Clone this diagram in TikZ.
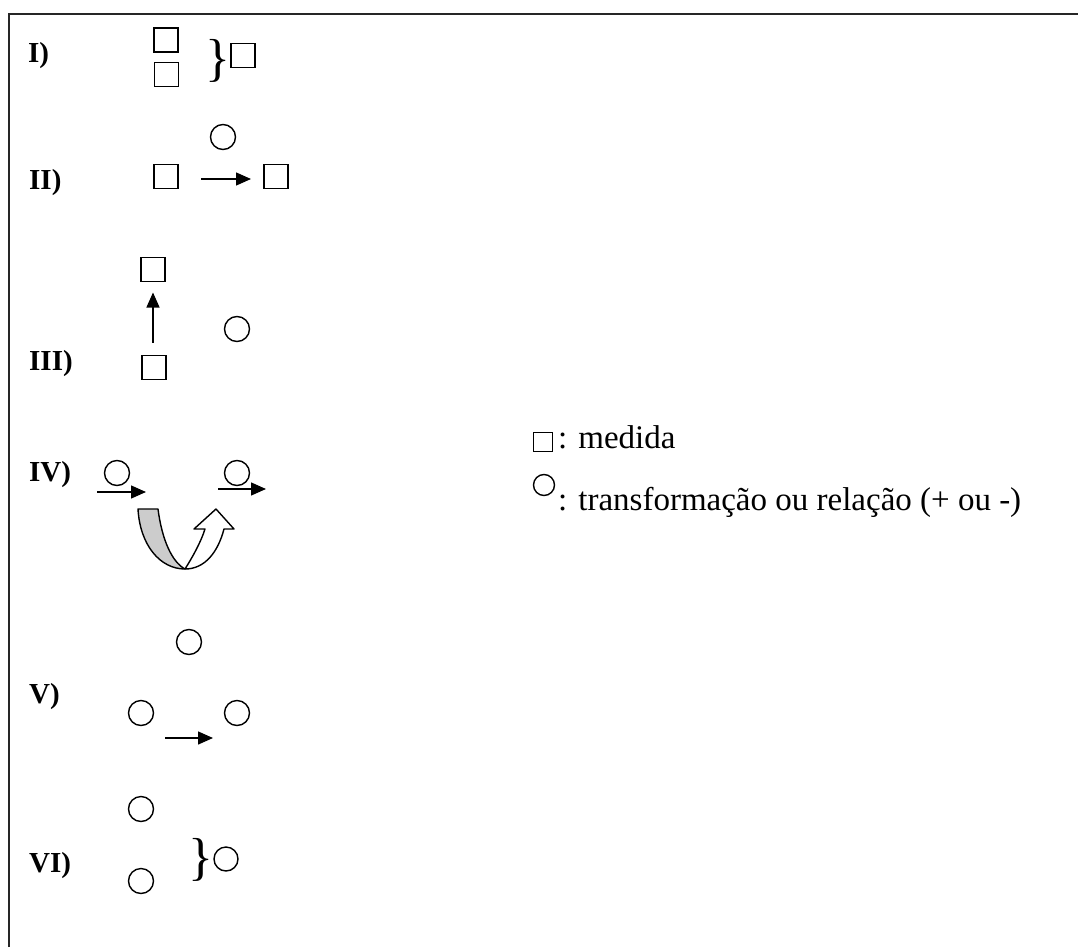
\documentclass[tikz,border=0pt]{standalone}
\usepackage{fontspec}
\setmainfont{Liberation Serif}
\usetikzlibrary{arrows.meta}
\begin{document}
\begin{tikzpicture}[x=1pt,y=-1pt,
  sq/.style={draw,line width=1.4pt,minimum size=24pt,inner sep=0pt,outer sep=0pt},
  lsq/.style={draw,line width=1.4pt,minimum size=19pt,inner sep=0pt,outer sep=0pt},
  circ/.style={draw,circle,line width=1.4pt,minimum size=25pt,inner sep=0pt,outer sep=0pt},
  lbl/.style={anchor=base west,inner sep=0pt,font=\fontsize{29}{29}\selectfont\bfseries},
  brc/.style={inner sep=0pt,font=\fontsize{52}{52}\selectfont},
  txt/.style={anchor=base west,inner sep=0pt,font=\fontsize{33}{33}\selectfont},
  arr/.style={line width=1.4pt,-{Triangle[length=15pt,width=13pt]}},
  band/.style={line width=1.4pt,line join=round}]
\useasboundingbox (0,0) rectangle (1078,947);
\draw[line width=2pt,black!85] (9,947) -- (9,14) -- (1078,14);
% I
\node[lbl] (l1) at (28,63) {I)};
\node[sq] (a1) at (166,40) {};
\node[sq] (a2) at (166.5,74.5) {};
\node[brc] (b1) at (218,61) {\}};
\node[sq] (a3) at (243,55.5) {};
% II
\node[lbl] (l2) at (29,189) {II)};
\node[circ] (c2) at (223,137) {};
\node[sq] (s2a) at (166,176.5) {};
\node[sq] (s2b) at (276,176.5) {};
\draw[arr,shorten <=23pt,shorten >=13pt] (s2a.east |- 0,179) -- (s2b.west |- 0,179);
% III
\node[lbl] (l3) at (29,370) {III)};
\node[sq] (s3t) at (153,269.5) {};
\node[sq] (s3b) at (154,367.5) {};
\node[circ] (c3) at (237,329) {};
\draw[arr,shorten <=13pt,shorten >=11pt] (s3b.north -| 153,0) -- (s3t.south -| 153,0);
% IV
\node[lbl] (l4) at (29,481) {IV)};
\node[circ] (c4a) at (117,473) {};
\node[circ] (c4b) at (237,473) {};
\coordinate (p1) at (97,492);
\coordinate (p2) at (146,492);
\coordinate (p3) at (218,489);
\coordinate (p4) at (266,489);
\draw[arr] (p1) -- (p2);
\draw[arr] (p3) -- (p4);
\draw[band,fill=black!20] (138,509) -- (158,509) .. controls (162,540) and (172,562) .. (185,569)
   .. controls (160,569) and (140,545) .. (138,509) -- cycle;
\draw[band,fill=white] (185,569) .. controls (192,558) and (201,542) .. (205,529) -- (194,529)
   -- (216,509) -- (234,529) -- (224,529) .. controls (218,552) and (205,569) .. (185,569) -- cycle;
% V
\node[lbl] (l5) at (29,703) {V)};
\node[circ] (c5t) at (189,642) {};
\node[circ] (c5l) at (141,713) {};
\node[circ] (c5r) at (237,713) {};
\coordinate (p5) at (165,738);
\coordinate (p6) at (213,738);
\draw[arr] (p5) -- (p6);
% VI
\node[lbl] (l6) at (29,872) {VI)};
\node[circ] (c6t) at (141,809) {};
\node[circ] (c6b) at (141,881) {};
\node[brc] (b6) at (201,860) {\}};
\node[circ,minimum size=24pt] (c6r) at (226,859) {};
% legend
\node[lsq] (k1) at (543,442) {};
\node[txt] (t1) at (558,448) {: medida};
\node[circ,minimum size=21pt] (k2) at (544,485) {};
\node[txt] (t2) at (558,510) {: transformação ou relação (+ ou -)};
\end{tikzpicture}
\end{document}
